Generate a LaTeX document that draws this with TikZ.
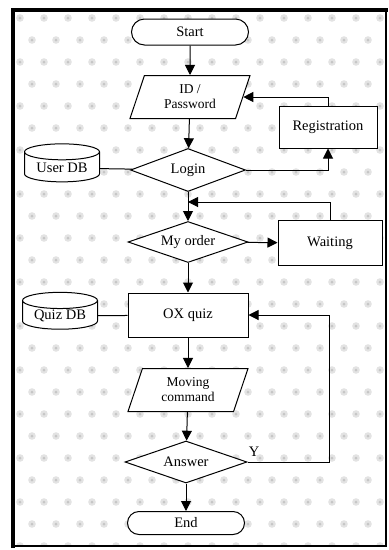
\documentclass[tikz,border=0pt]{standalone}
\usepackage{fontspec}
\setmainfont{Liberation Serif}
\usetikzlibrary{shapes.geometric,shapes.misc,arrows.meta}
\tikzset{
    box/.style={draw,fill=white,line width=1pt,minimum width=#1,minimum height=43pt,inner sep=1pt},
    term/.style={draw,fill=white,line width=1pt,rounded rectangle,minimum width=119pt,minimum height=26pt,inner sep=1pt},
    iobox/.style={draw,fill=white,line width=1pt,trapezium,trapezium left angle=61,trapezium right angle=119,trapezium stretches body=true,minimum width=120pt,minimum height=43pt,inner sep=1pt,align=center,font=\fontsize{13.5}{15}\selectfont},
    decide/.style={draw,fill=white,line width=1pt,diamond,aspect=2.8,minimum width=#1,minimum height=43pt,inner sep=0pt},
    dbase/.style={draw,fill=white,line width=1pt,cylinder,shape border rotate=90,aspect=0.3,minimum width=75pt,minimum height=38pt,inner sep=1pt},
    flow/.style={line width=1pt,-{Triangle[length=10pt,width=10pt]}},
    link/.style={line width=1pt}
}
\begin{document}
\begin{tikzpicture}[x=1pt,y=-1pt,font=\fontsize{14.5}{16}\selectfont]
    \useasboundingbox (0,0) rectangle (389,550);
    \fill[white] (13,10) rectangle (386,546);
    \begin{scope}
        \clip (15,12) rectangle (384,544);
        \foreach \x in {0,1,...,16} { \foreach \y in {0,1,...,24} {
            \pgfmathsetmacro{\dx}{mod(\y,2)*12}
            \fill[color=gray!22] (20+\x*24+\dx,18+\y*22) circle (3.8);
            \fill[color=gray!45] (20+\x*24+\dx,18+\y*22) circle (1.5);
        } }
    \end{scope}
    \draw[line width=2pt] (386,10) -- (386,546) -- (13,546);
    \draw[line width=4pt] (13,548) -- (13,10) -- (388,10);
    \node[term] (start) at (190,32) {Start};
    \node[iobox] (idpw) at (190,97) {ID /\\Password};
    \node[box=98pt,minimum height=42pt] (reg) at (328,127) {Registration};
    \node[decide=115pt] (login) at (188,170) {Login};
    \node[dbase] (userdb) at (62,168) {User DB};
    \coordinate (merge) at (188,202);
    \node[decide=120pt,minimum height=41pt] (order) at (188,242) {My order};
    \node[box=104pt,minimum height=45pt] (wait) at (330,243) {Waiting};
    \node[box=120pt,minimum height=44pt] (quiz) at (188,315) {OX quiz};
    \node[dbase,minimum height=36pt] (quizdb) at (60,316) {Quiz DB};
    \node[iobox] (move) at (188,390) {Moving\\command};
    \node[decide=122pt,minimum height=42pt] (answer) at (186,462) {Answer};
    \node[term,minimum height=23pt] (end) at (186,523) {End};
    \coordinate (back) at (329,462);
    \node (yes) at (254,452) {Y};
    \draw[flow] (start) -- (idpw);
    \draw[flow] (idpw) -- (login);
    \draw[link] (userdb) -- (login);
    \draw[flow] (login.east) -| (reg.south);
    \draw[flow] (reg.north) |- (idpw.east);
    \draw[flow] (login.south) -- (order.north);
    \draw[flow] (wait.north) |- (merge);
    \draw[flow] (order) -- (wait);
    \draw[flow] (order) -- (quiz);
    \draw[link] (quizdb) -- (quiz);
    \draw[flow] (quiz) -- (move);
    \draw[flow] (move) -- (answer);
    \draw[flow] (answer.east) -- (back) |- (quiz.east);
    \draw[flow] (answer) -- (end);
\end{tikzpicture}
\end{document}
